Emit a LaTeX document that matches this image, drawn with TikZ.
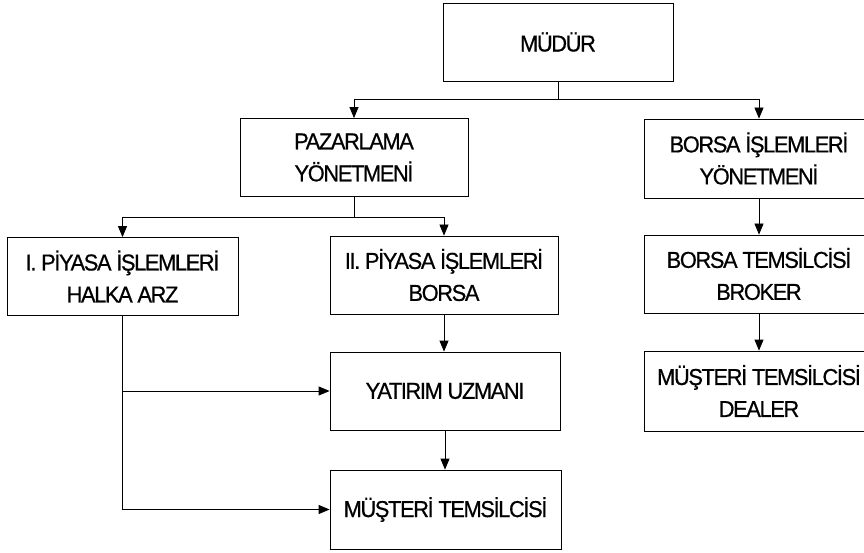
\documentclass[tikz,border=0pt]{standalone}
\usepackage{fontspec}
\setmainfont[FakeStretch=0.95,LetterSpace=-6,FakeBold=0.6]{Liberation Sans}
\usetikzlibrary{arrows.meta}
\begin{document}
\begin{tikzpicture}[x=1pt,y=-1pt,
  unit/.style={draw, line width=0.8pt, minimum width=230pt, minimum height=78pt,
    inner sep=0pt, align=center, font=\fontsize{23}{32}\selectfont},
  link/.style={line width=0.8pt},
  arr/.style={link, -{Triangle[length=11pt,width=9pt]}}]
\clip (0,0) rectangle (864,553);
\fill[white] (0,0) rectangle (864,553);

% top level
\node[unit] (mudur) at (558,42) {MÜDÜR};

% second level
\node[unit, minimum width=228pt] (paz) at (354,157.5) {PAZARLAMA\\YÖNETMENİ};
\node[unit, minimum height=79pt] (bisl) at (759,158.5) {BORSA İŞLEMLERİ\\YÖNETMENİ};

% marketing branch
\node[unit, minimum width=231pt] (p1) at (122.5,276.5) {I. PİYASA İŞLEMLERİ\\HALKA ARZ};
\node[unit, minimum width=228pt] (p2) at (444,275) {II. PİYASA İŞLEMLERİ\\BORSA};
\node[unit] (yat) at (445,391) {YATIRIM UZMANI};
\node[unit, minimum width=231pt, minimum height=79pt] (mus) at (445.5,509.5) {MÜŞTERİ TEMSİLCİSİ};

% stock exchange branch
\node[unit] (btem) at (759,274) {BORSA TEMSİLCİSİ\\BROKER};
\node[unit, minimum height=80pt] (deal) at (759,391) {MÜŞTERİ TEMSİLCİSİ\\DEALER};

% connectors from the director
\draw[link] (mudur.south) -- ++(0,18) coordinate (j1);
\draw[arr] (j1) -| (paz.north);
\draw[arr] (j1) -| (bisl.north);

% connectors from the marketing manager
\draw[link] (paz.south) -- ++(0,21) coordinate (j2);
\draw[arr] (j2) -| (p1.north);
\draw[arr] (j2) -| (p2.north);

% secondary market chain
\draw[arr] (p2.south) -- (p2.south |- yat.north);
\draw[arr] (yat.south) -- (yat.south |- mus.north);

% primary market links
\draw[arr] (p1.south) |- (yat.west);
\draw[arr] (p1.south) |- (mus.west);

% stock exchange chain
\draw[arr] (bisl.south) -- (btem.north);
\draw[arr] (btem.south) -- (deal.north);
\end{tikzpicture}
\end{document}
